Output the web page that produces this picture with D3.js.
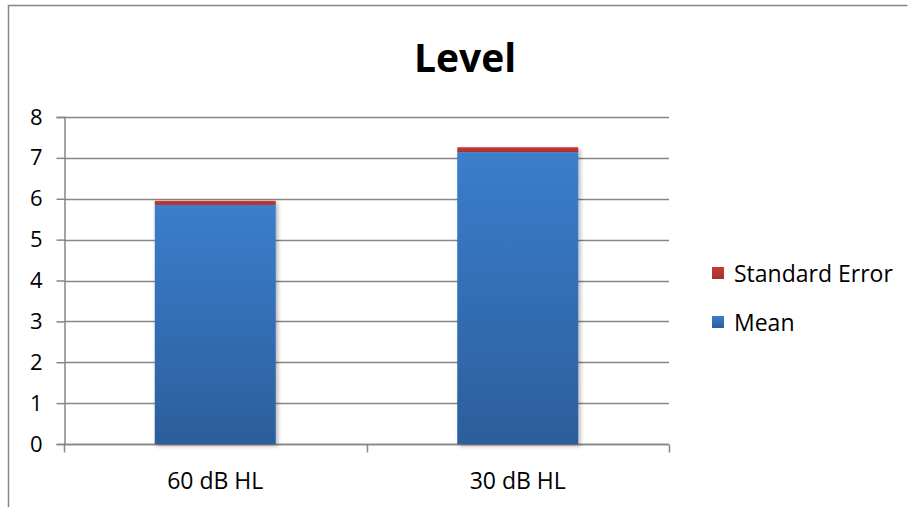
<!DOCTYPE html>
<html>
<head>
<meta charset="utf-8">
<script src="https://cdn.jsdelivr.net/npm/d3@7"></script>
<style>
  html, body { margin: 0; padding: 0; background: #fff; }
  svg { display: block; }
  text { font-family: "Open Sans", Lato, sans-serif; fill: #000; }
</style>
</head>
<body>
<svg id="chart" width="909" height="507"></svg>
<script>
// Chart data
const categories = ["60 dB HL", "30 dB HL"];
const meanValues = [5.85, 7.14];
const stdErrValues = [0.1, 0.12];
const yTicks = [0, 1, 2, 3, 4, 5, 6, 7, 8];
const seriesNames = ["Standard Error", "Mean"];
const chartTitle = "Level";

const svg = d3.select("#chart");
const W = 909, H = 507;
const plot = { left: 64, right: 669, top: 117, bottom: 444 };
const FONT = "'Open Sans', Lato, sans-serif";

// Outer chart frame
svg.append("path")
  .attr("d", `M8.5,${H} V5.5 H907.5`)
  .attr("fill", "none").attr("stroke", "#868686").attr("stroke-width", 1.5);

const defs = svg.append("defs");
const blueGrad = defs.append("linearGradient").attr("id", "blueGrad")
  .attr("x1", 0).attr("y1", 0).attr("x2", 0).attr("y2", 1);
blueGrad.append("stop").attr("offset", "0%").attr("stop-color", "#3b7ecc");
blueGrad.append("stop").attr("offset", "100%").attr("stop-color", "#2c5e9c");
const redGrad = defs.append("linearGradient").attr("id", "redGrad")
  .attr("x1", 0).attr("y1", 0).attr("x2", 0).attr("y2", 1);
redGrad.append("stop").attr("offset", "0%").attr("stop-color", "#cb3a37");
redGrad.append("stop").attr("offset", "100%").attr("stop-color", "#a3302d");
const shadow = defs.append("filter").attr("id", "shadow")
  .attr("x", "-10%").attr("y", "-10%").attr("width", "130%").attr("height", "130%");
shadow.append("feDropShadow").attr("dx", 2).attr("dy", 2).attr("stdDeviation", 2)
  .attr("flood-color", "#000").attr("flood-opacity", 0.3);

const x = d3.scaleBand().domain(categories)
  .range([plot.left, plot.right]).paddingInner(0.6).paddingOuter(0.3);
const xOuter = d3.scaleBand().domain(categories).range([plot.left, plot.right]);
const y = d3.scaleLinear().domain([0, 8]).range([plot.bottom, plot.top]);

// Horizontal gridlines
svg.append("g").selectAll("line").data(yTicks).join("line")
  .attr("x1", plot.left).attr("x2", plot.right)
  .attr("y1", d => Math.round(y(d)) + 0.5).attr("y2", d => Math.round(y(d)) + 0.5)
  .attr("stroke", "#868686").attr("stroke-width", 1.5);

// Y axis
const yAxis = svg.append("g").attr("transform", `translate(${plot.left + 0.5},0)`)
  .call(d3.axisLeft(y).tickValues(yTicks).tickSize(8).tickPadding(14).tickFormat(d3.format("d")));
yAxis.select(".domain").attr("stroke", "#868686").attr("stroke-width", 1.5);
yAxis.selectAll(".tick line").attr("stroke", "#868686").attr("stroke-width", 1.5);
yAxis.selectAll(".tick text").attr("font-size", 22).attr("font-family", FONT)
  .attr("fill", "#000");

// X axis with category boundary ticks
const xAxisG = svg.append("g").attr("transform", `translate(0,${Math.round(y(0)) + 0.5})`);
xAxisG.append("line").attr("x1", plot.left).attr("x2", plot.right)
  .attr("stroke", "#868686").attr("stroke-width", 1.5);
const boundaries = categories.map(c => xOuter(c)).concat([plot.right]);
xAxisG.selectAll("line.tk").data(boundaries).join("line").attr("class", "tk")
  .attr("x1", d => Math.round(d) + 0.5).attr("x2", d => Math.round(d) + 0.5)
  .attr("y1", 0).attr("y2", 8)
  .attr("stroke", "#868686").attr("stroke-width", 1.5);
xAxisG.selectAll("text").data(categories).join("text")
  .attr("x", d => xOuter(d) + xOuter.bandwidth() / 2)
  .attr("y", 44)
  .attr("text-anchor", "middle").attr("font-size", 23)
  .text(d => d);

// Stacked bars: mean then standard error on top
const bars = svg.append("g").attr("filter", "url(#shadow)");
bars.selectAll("rect.mean").data(categories).join("rect").attr("class", "mean")
  .attr("x", d => x(d)).attr("width", x.bandwidth())
  .attr("y", (d, i) => y(meanValues[i]))
  .attr("height", (d, i) => y(0) - y(meanValues[i]))
  .attr("fill", "url(#blueGrad)");
bars.selectAll("rect.se").data(categories).join("rect").attr("class", "se")
  .attr("x", d => x(d)).attr("width", x.bandwidth())
  .attr("y", (d, i) => y(meanValues[i] + stdErrValues[i]))
  .attr("height", (d, i) => y(meanValues[i]) - y(meanValues[i] + stdErrValues[i]))
  .attr("fill", "url(#redGrad)");

// Title
svg.append("text").attr("x", 465).attr("y", 72)
  .attr("text-anchor", "middle").attr("font-size", 39).attr("font-weight", "bold")
  .text(chartTitle);

// Legend
const legendFills = ["url(#redGrad)", "url(#blueGrad)"];
const legend = svg.append("g").attr("transform", "translate(712,267)");
seriesNames.forEach((name, i) => {
  const g = legend.append("g").attr("transform", `translate(0,${i * 49})`);
  g.append("rect").attr("width", 12).attr("height", 12).attr("fill", legendFills[i]);
  g.append("text").attr("x", 22).attr("y", 15).attr("font-size", 23).text(name);
});
</script>
</body>
</html>
